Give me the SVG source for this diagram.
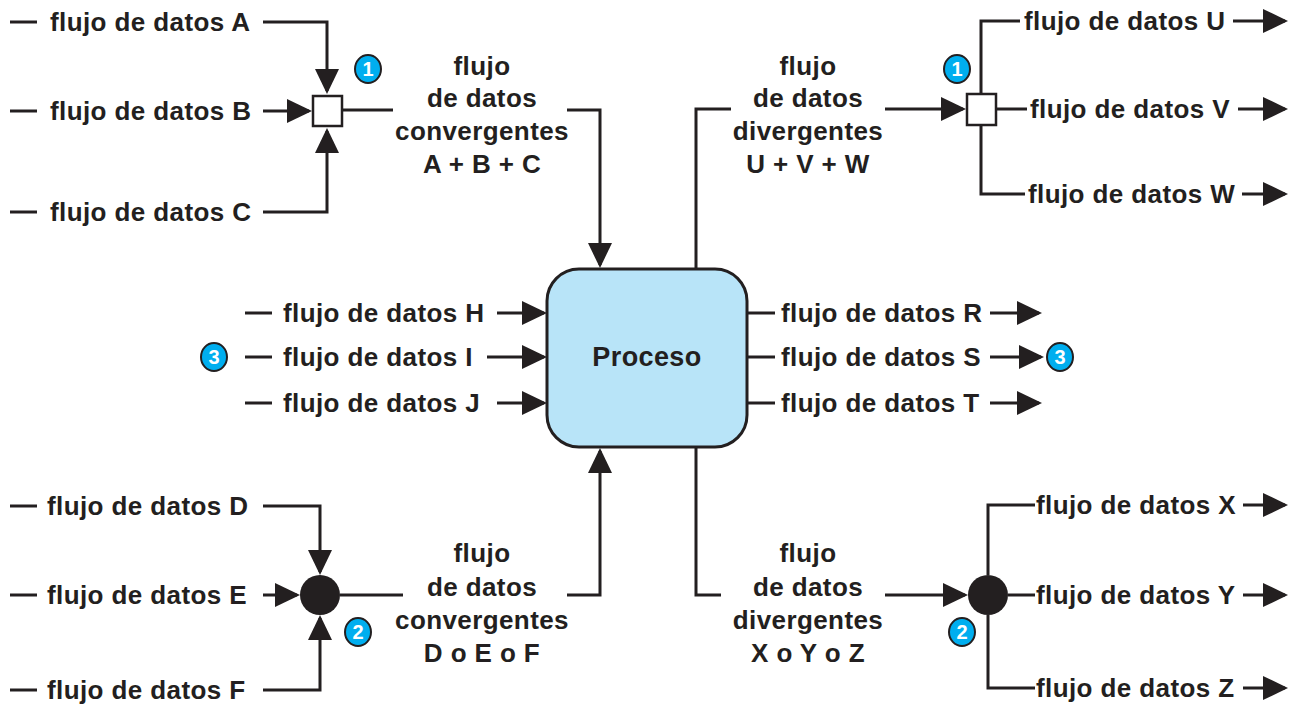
<svg xmlns="http://www.w3.org/2000/svg" width="1295" height="705" viewBox="0 0 1295 705">
<style>
.t{font-family:"Liberation Sans",Arial,sans-serif;font-weight:bold;font-size:26px;fill:#231f20;letter-spacing:0.4px}
.c{text-anchor:middle}
.ln{fill:none;stroke:#231f20;stroke-width:3}
.ar{fill:none;stroke:#231f20;stroke-width:3;marker-end:url(#ah)}
.bd ellipse{fill:#00aeef;stroke:#231f20;stroke-width:2}
.bd text{font-family:"Liberation Sans",Arial,sans-serif;font-weight:bold;font-size:20px;fill:#fff;text-anchor:middle}
.jn{fill:#fff;stroke:#231f20;stroke-width:2.5}
.jc{fill:#231f20}
</style>
<defs>
<marker id="ah" viewBox="0 0 25 24" refX="22" refY="12" markerWidth="25" markerHeight="24" markerUnits="userSpaceOnUse" orient="auto">
<path d="M0,0 L25,12 L0,24 Z" fill="#231f20"/>
</marker>
</defs>
<rect width="1295" height="705" fill="#fff"/>
<g id="connectors">
<path class="ln" d="M10,22 H37"/>
<path class="ar" d="M263,22 H327 V91"/>
<path class="ln" d="M10,111 H37"/>
<path class="ar" d="M263,111 H309"/>
<path class="ln" d="M10,212 H37"/>
<path class="ar" d="M263,212 H327 V131"/>
<path class="ln" d="M342,110 H393"/>
<path class="ar" d="M567,110 H600 V265"/>
<path class="ln" d="M696,268 V109 H731"/>
<path class="ar" d="M885,109 H963"/>
<path class="ln" d="M981,94 V21 H1020"/>
<path class="ar" d="M1233,21 H1285"/>
<path class="ln" d="M996,109 H1027"/>
<path class="ar" d="M1238,109 H1285"/>
<path class="ln" d="M981,125 V194 H1025"/>
<path class="ar" d="M1242,194 H1285"/>
<path class="ln" d="M245,313 H272"/>
<path class="ar" d="M497,313 H544"/>
<path class="ln" d="M245,357 H272"/>
<path class="ar" d="M487,357 H544"/>
<path class="ln" d="M245,403 H272"/>
<path class="ar" d="M497,403 H544"/>
<path class="ln" d="M748,313 H775"/>
<path class="ar" d="M990,313 H1039"/>
<path class="ln" d="M748,357 H775"/>
<path class="ar" d="M990,357 H1041"/>
<path class="ln" d="M748,403 H775"/>
<path class="ar" d="M990,403 H1039"/>
<path class="ln" d="M10,506 H37"/>
<path class="ar" d="M263,506 H320 V572"/>
<path class="ln" d="M10,595 H37"/>
<path class="ar" d="M263,595 H297"/>
<path class="ln" d="M10,690 H37"/>
<path class="ar" d="M263,690 H320 V618"/>
<path class="ln" d="M340,595 H403"/>
<path class="ar" d="M567,595 H600 V451"/>
<path class="ln" d="M696,447 V595 H721"/>
<path class="ar" d="M885,595 H965"/>
<path class="ln" d="M988,575 V505 H1035"/>
<path class="ar" d="M1243,505 H1285"/>
<path class="ln" d="M1008,595 H1035"/>
<path class="ar" d="M1243,595 H1285"/>
<path class="ln" d="M988,615 V688 H1035"/>
<path class="ar" d="M1243,688 H1285"/>
</g>
<g id="process">
<rect x="547" y="269" width="200" height="178" rx="32" ry="32" fill="#b8e4f8" stroke="#231f20" stroke-width="3"/>
<text class="t c" x="647" y="366" style="font-size:27px">Proceso</text>
</g>
<g id="junction-abc"><rect class="jn" x="313" y="96" width="29" height="30"/></g>
<g id="junction-uvw"><rect class="jn" x="967" y="94" width="29" height="31"/></g>
<g id="junction-def"><ellipse class="jc" cx="320" cy="595" rx="20" ry="20"/></g>
<g id="junction-xyz"><ellipse class="jc" cx="988" cy="595" rx="20" ry="20"/></g>
<g id="badge-1a" class="bd"><ellipse cx="368" cy="69" rx="13" ry="14"/><text x="368" y="76">1</text></g>
<g id="badge-1b" class="bd"><ellipse cx="957" cy="69" rx="13" ry="14"/><text x="957" y="76">1</text></g>
<g id="badge-2a" class="bd"><ellipse cx="358" cy="632" rx="13" ry="14"/><text x="358" y="639">2</text></g>
<g id="badge-2b" class="bd"><ellipse cx="962" cy="632" rx="13" ry="14"/><text x="962" y="639">2</text></g>
<g id="badge-3a" class="bd"><ellipse cx="214" cy="357" rx="13" ry="14"/><text x="214" y="364">3</text></g>
<g id="badge-3b" class="bd"><ellipse cx="1060" cy="357" rx="13" ry="14"/><text x="1060" y="364">3</text></g>
<g id="flow-a"><text class="t" x="50" y="31">flujo de datos A</text></g>
<g id="flow-b"><text class="t" x="50" y="120">flujo de datos B</text></g>
<g id="flow-c"><text class="t" x="50" y="221">flujo de datos C</text></g>
<g id="flow-abc">
<text class="t c" x="482" y="75">flujo</text>
<text class="t c" x="482" y="107">de datos</text>
<text class="t c" x="482" y="140">convergentes</text>
<text class="t c" x="482" y="173">A + B + C</text>
</g>
<g id="flow-uvw">
<text class="t c" x="808" y="75">flujo</text>
<text class="t c" x="808" y="107">de datos</text>
<text class="t c" x="808" y="140">divergentes</text>
<text class="t c" x="808" y="173">U + V + W</text>
</g>
<g id="flow-u"><text class="t" x="1024" y="30">flujo de datos U</text></g>
<g id="flow-v"><text class="t" x="1030" y="118">flujo de datos V</text></g>
<g id="flow-w"><text class="t" x="1028" y="203">flujo de datos W</text></g>
<g id="flow-h"><text class="t" x="283" y="322">flujo de datos H</text></g>
<g id="flow-i"><text class="t" x="283" y="366">flujo de datos I</text></g>
<g id="flow-j"><text class="t" x="283" y="412">flujo de datos J</text></g>
<g id="flow-r"><text class="t" x="781" y="322">flujo de datos R</text></g>
<g id="flow-s"><text class="t" x="781" y="366">flujo de datos S</text></g>
<g id="flow-t"><text class="t" x="781" y="412">flujo de datos T</text></g>
<g id="flow-d"><text class="t" x="47" y="515">flujo de datos D</text></g>
<g id="flow-e"><text class="t" x="47" y="604">flujo de datos E</text></g>
<g id="flow-f"><text class="t" x="47" y="699">flujo de datos F</text></g>
<g id="flow-def">
<text class="t c" x="482" y="562">flujo</text>
<text class="t c" x="482" y="596">de datos</text>
<text class="t c" x="482" y="629">convergentes</text>
<text class="t c" x="482" y="662">D o E o F</text>
</g>
<g id="flow-xyz">
<text class="t c" x="808" y="562">flujo</text>
<text class="t c" x="808" y="596">de datos</text>
<text class="t c" x="808" y="629">divergentes</text>
<text class="t c" x="808" y="662">X o Y o Z</text>
</g>
<g id="flow-x"><text class="t" x="1036" y="514">flujo de datos X</text></g>
<g id="flow-y"><text class="t" x="1036" y="604">flujo de datos Y</text></g>
<g id="flow-z"><text class="t" x="1036" y="697">flujo de datos Z</text></g>
</svg>
